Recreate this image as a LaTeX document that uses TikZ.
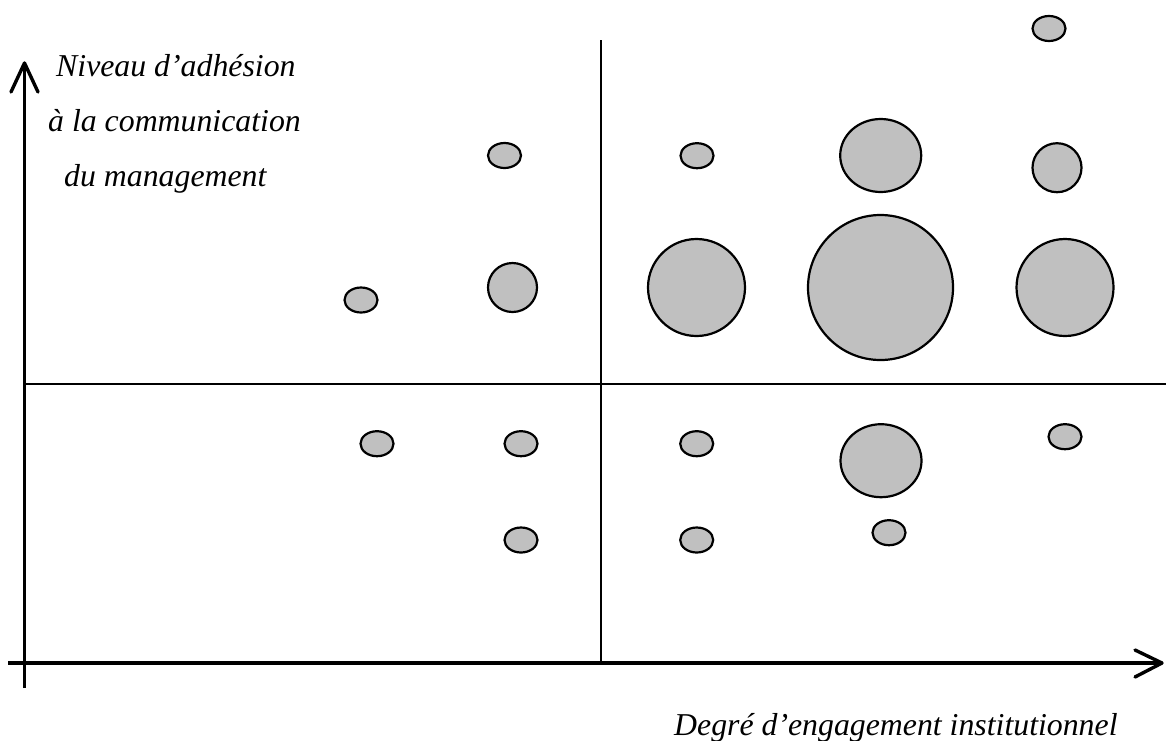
\documentclass[tikz,border=0pt]{standalone}
\usepackage{fontspec}
\setmainfont{Liberation Serif}
\usetikzlibrary{shapes.geometric}
\tikzset{
  axisline/.style={line width=3.4pt, line cap=butt, line join=miter},
  divline/.style={line width=2.2pt},
  blob/.style={ellipse, draw=black, line width=2.2pt, fill=blobgray, inner sep=0pt},
  sm/.style={blob, minimum width=33pt, minimum height=25pt},
  md/.style={blob, minimum width=49pt, minimum height=49pt},
  ov/.style={blob, minimum width=81pt, minimum height=73pt},
  lg/.style={blob, minimum width=97pt, minimum height=97pt},
  xl/.style={blob, minimum width=145pt, minimum height=145pt},
  lbl/.style={font=\fontsize{31.8}{36}\selectfont\itshape, inner sep=0pt, anchor=base west}
}
\definecolor{blobgray}{HTML}{C0C0C0}
\begin{document}
\begin{tikzpicture}[x=1pt,y=-1pt]
\useasboundingbox (0,0) rectangle (1166,740);
% axes
\coordinate (ybot) at (24.5,688);
\coordinate (ytip) at (24.5,63);
\coordinate (yw1) at (11,92);
\coordinate (yw2) at (38,92);
\coordinate (xleft) at (8,663);
\coordinate (xtip) at (1162,663);
\coordinate (xw1) at (1135,650);
\coordinate (xw2) at (1135,677);
% dividers
\coordinate (vtop) at (601,40);
\coordinate (vbot) at (601,663);
\coordinate (hleft) at (24.5,384);
\coordinate (hright) at (1166,384);
\draw[divline] (vtop) -- (vbot);
\draw[divline] (hleft) -- (hright);
\draw[axisline] (ybot) -- (ytip);
\draw[axisline, line join=round, line cap=round] (yw1) -- (ytip) -- (yw2);
\draw[axisline] (xleft) -- (xtip);
\draw[axisline, line join=round, line cap=round] (xw1) -- (xtip) -- (xw2);
% labels
\node[lbl] (l1) at (56,76) {Niveau d’adhésion};
\node[lbl] (l2) at (48,131) {à la communication};
\node[lbl] (l3) at (64,186) {du management};
\node[lbl] (xl) at (674,735) {Degré d’engagement institutionnel};
% bubbles
\node[sm] (b1) at (1049,28.5) {};
\node[sm] (b2) at (504.5,155.5) {};
\node[sm] (b3) at (697,155.7) {};
\node[ov] (b4) at (880.7,155.5) {};
\node[md] (b5) at (1057,167.7) {};
\node[sm] (b6) at (361,300) {};
\node[md] (b7) at (512.5,287.5) {};
\node[lg] (b8) at (696.5,287.5) {};
\node[xl] (b9) at (880.5,287.5) {};
\node[lg] (b10) at (1065,287.5) {};
\node[sm] (b11) at (377,443.7) {};
\node[sm] (b12) at (521,443.7) {};
\node[sm] (b13) at (696.7,443.7) {};
\node[ov] (b14) at (881,460.7) {};
\node[sm] (b15) at (1065,436.7) {};
\node[sm] (b16) at (521,540) {};
\node[sm] (b17) at (696.7,540) {};
\node[sm] (b18) at (889,532.7) {};
\end{tikzpicture}
\end{document}
